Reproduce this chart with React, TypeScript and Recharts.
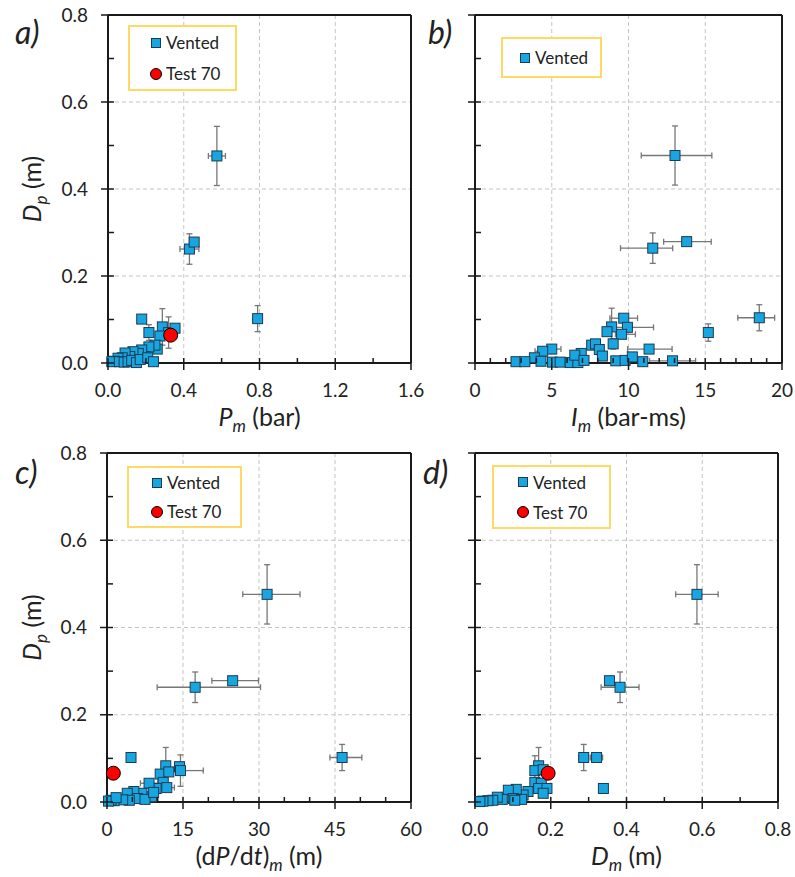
import { ScatterChart, Scatter, XAxis, YAxis, CartesianGrid, ReferenceLine, ErrorBar, Legend } from "recharts";

const FONT = "Lato, 'Open Sans', sans-serif";
const AXIS = "#1a1a1a";
const TEXT = "#222";
const GRID = "#c4c4c4";
const VENT_FILL = "#17A6E1";
const VENT_STROKE = "#1d3b50";
const RED = "#FF0000";
const ERR = "#777";
const LEGEND_BORDER = "#FFD966";

// axis ticks
const dpTicks = [0, 0.2, 0.4, 0.6, 0.8];
const dpMinor = [0.1, 0.3, 0.5, 0.7];
const pmTicks = [0, 0.4, 0.8, 1.2, 1.6];
const pmMinor = [0.2, 0.6, 1.0, 1.4];
const imTicks = [0, 5, 10, 15, 20];
const imMinor = [1, 2, 3, 4, 6, 7, 8, 9, 11, 12, 13, 14, 16, 17, 18, 19];
const dpdtTicks = [0, 15, 30, 45, 60];
const dpdtMinor = [5, 10, 20, 25, 35, 40, 50, 55];
const dmTicks = [0, 0.2, 0.4, 0.6, 0.8];
const dmMinor = [0.1, 0.3, 0.5, 0.7];

// a) Pm (bar) vs Dp (m)
const pmVented = [
  { x: 0.575, y: 0.476, ex: 0.045, ey: 0.068 },
  { x: 0.43, y: 0.262, ex: 0.05, ey: 0.035 },
  { x: 0.455, y: 0.278 },
  { x: 0.79, y: 0.102, ey: 0.03 },
  { x: 0.178, y: 0.101 },
  { x: 0.216, y: 0.07, ey: 0.018 },
  { x: 0.287, y: 0.083, ey: 0.042 },
  { x: 0.32, y: 0.07, ey: 0.036 },
  { x: 0.354, y: 0.08 },
  { x: 0.274, y: 0.062 },
  { x: 0.26, y: 0.032 },
  { x: 0.248, y: 0.041 },
  { x: 0.216, y: 0.037 },
  { x: 0.195, y: 0.015 },
  { x: 0.178, y: 0.03 },
  { x: 0.16, y: 0.022 },
  { x: 0.132, y: 0.026 },
  { x: 0.115, y: 0.015 },
  { x: 0.09, y: 0.023 },
  { x: 0.075, y: 0.012 },
  { x: 0.053, y: 0.011 },
  { x: 0.035, y: 0.004 },
  { x: 0.02, y: 0.003 },
  { x: 0.06, y: 0.003 },
  { x: 0.085, y: 0.002 },
  { x: 0.106, y: 0.003 },
  { x: 0.125, y: 0.006 },
  { x: 0.15, y: 0.001 },
  { x: 0.17, y: 0.008 },
  { x: 0.21, y: 0.012 },
  { x: 0.24, y: 0.003 },
];
const pmTest70 = [{ x: 0.331, y: 0.064 }];

// b) Im (bar-ms) vs Dp (m)
const imVented = [
  { x: 13.03, y: 0.477, ex: [2.2, 2.4], ey: 0.068 },
  { x: 11.58, y: 0.264, ex: [2.1, 1.3], ey: 0.035 },
  { x: 13.79, y: 0.279, ex: [1.5, 1.6] },
  { x: 18.52, y: 0.104, ex: [1.4, 1.0], ey: 0.03 },
  { x: 15.2, y: 0.07, ey: 0.02 },
  { x: 9.69, y: 0.103, ex: 0.9 },
  { x: 8.9, y: 0.083, ey: 0.043 },
  { x: 9.93, y: 0.082, ex: [1.3, 1.7] },
  { x: 8.6, y: 0.072 },
  { x: 9.55, y: 0.066, ex: [0.4, 0.9] },
  { x: 9.0, y: 0.044, ey: 0.012 },
  { x: 11.34, y: 0.032, ex: [1.4, 1.5] },
  { x: 7.6, y: 0.041 },
  { x: 7.85, y: 0.044 },
  { x: 8.1, y: 0.031 },
  { x: 8.3, y: 0.016 },
  { x: 5.0, y: 0.032, ex: 0.6 },
  { x: 4.41, y: 0.027, ex: 0.5 },
  { x: 3.87, y: 0.012 },
  { x: 4.3, y: 0.004 },
  { x: 2.67, y: 0.003 },
  { x: 3.25, y: 0.003 },
  { x: 5.05, y: 0.002 },
  { x: 5.55, y: 0.002 },
  { x: 6.2, y: 0.001 },
  { x: 6.7, y: 0.001 },
  { x: 6.92, y: 0.022 },
  { x: 6.5, y: 0.018 },
  { x: 7.1, y: 0.006 },
  { x: 9.17, y: 0.005 },
  { x: 9.78, y: 0.006 },
  { x: 10.25, y: 0.014 },
  { x: 10.93, y: 0.003 },
  { x: 12.87, y: 0.005, ex: 1.5 },
];

// c) (dP/dt)m vs Dp (m)
const dpdtVented = [
  { x: 31.6, y: 0.476, ex: [4.8, 6.5], ey: 0.068 },
  { x: 17.4, y: 0.263, ex: [7.5, 12.9], ey: 0.035 },
  { x: 24.8, y: 0.278, ex: [4.1, 5.1] },
  { x: 46.4, y: 0.102, ex: [2.4, 3.9], ey: 0.03 },
  { x: 4.74, y: 0.102 },
  { x: 11.6, y: 0.083, ey: 0.042 },
  { x: 10.5, y: 0.064 },
  { x: 12.2, y: 0.069 },
  { x: 14.3, y: 0.081 },
  { x: 14.5, y: 0.072, ex: [1, 4.5], ey: 0.036 },
  { x: 11.1, y: 0.045 },
  { x: 9.7, y: 0.031 },
  { x: 11.8, y: 0.033, ex: [0, 1.5] },
  { x: 8.3, y: 0.043, ex: 1.7 },
  { x: 8.8, y: 0.012 },
  { x: 6.9, y: 0.02 },
  { x: 5.3, y: 0.024 },
  { x: 4.0, y: 0.02 },
  { x: 6.0, y: 0.008 },
  { x: 4.4, y: 0.004 },
  { x: 3.1, y: 0.005 },
  { x: 1.4, y: 0.003 },
  { x: 0.8, y: 0.004 },
  { x: 0.3, y: 0.002 },
  { x: 1.8, y: 0.01 },
  { x: 7.5, y: 0.006 },
  { x: 9.2, y: 0.022 },
];
const dpdtTest70 = [{ x: 1.25, y: 0.066 }];

// d) Dm (m) vs Dp (m)
const dmVented = [
  { x: 0.586, y: 0.476, ex: 0.056, ey: 0.068 },
  { x: 0.383, y: 0.263, ex: 0.05, ey: 0.035 },
  { x: 0.355, y: 0.278 },
  { x: 0.287, y: 0.102, ex: 0.013, ey: 0.03 },
  { x: 0.321, y: 0.102, ex: 0.016 },
  { x: 0.339, y: 0.031 },
  { x: 0.168, y: 0.083, ey: 0.042 },
  { x: 0.158, y: 0.072, ey: 0.034 },
  { x: 0.18, y: 0.074 },
  { x: 0.158, y: 0.045 },
  { x: 0.175, y: 0.043 },
  { x: 0.168, y: 0.031 },
  { x: 0.19, y: 0.031 },
  { x: 0.18, y: 0.02 },
  { x: 0.14, y: 0.024 },
  { x: 0.127, y: 0.016 },
  { x: 0.109, y: 0.029 },
  { x: 0.088, y: 0.027 },
  { x: 0.101, y: 0.008 },
  { x: 0.123, y: 0.006 },
  { x: 0.072, y: 0.006 },
  { x: 0.059, y: 0.011 },
  { x: 0.047, y: 0.004 },
  { x: 0.034, y: 0.003 },
  { x: 0.021, y: 0.002 },
  { x: 0.013, y: 0.001 },
  { x: 0.105, y: 0.004 },
];
const dmTest70 = [{ x: 0.193, y: 0.066 }];

const TITLE_SIZE = 25;
const SUB_SIZE = 17;

const titles: Record<string, any> = {
  pm: (
    <>
      <tspan fontStyle="italic">P</tspan>
      <tspan fontStyle="italic" fontSize={SUB_SIZE} dy={6}>m</tspan>
      <tspan dy={-6}> (bar)</tspan>
    </>
  ),
  im: (
    <>
      <tspan fontStyle="italic">I</tspan>
      <tspan fontStyle="italic" fontSize={SUB_SIZE} dy={6}>m</tspan>
      <tspan dy={-6}> (bar-ms)</tspan>
    </>
  ),
  dpdt: (
    <>
      <tspan>(d</tspan>
      <tspan fontStyle="italic">P</tspan>
      <tspan>/d</tspan>
      <tspan fontStyle="italic">t</tspan>
      <tspan>)</tspan>
      <tspan fontStyle="italic" fontSize={SUB_SIZE} dy={6}>m</tspan>
      <tspan dy={-6}> (m)</tspan>
    </>
  ),
  dm: (
    <>
      <tspan fontStyle="italic">D</tspan>
      <tspan fontStyle="italic" fontSize={SUB_SIZE} dy={6}>m</tspan>
      <tspan dy={-6}> (m)</tspan>
    </>
  ),
};

const panels = [
  {
    key: "a", left: 0, top: 0, width: 440, height: 440,
    margin: { top: 15, right: 29, left: 0, bottom: 0 }, yw: 108, xh: 77,
    xMajor: pmTicks, xMinor: pmMinor, xFmt: (v: number) => v.toFixed(1),
    yLabels: true, letterX: 15, title: "pm",
    vented: pmVented, test: pmTest70,
    legend: { left: 128, top: 25, width: 109, height: 66, pad: 19 },
  },
  {
    key: "b", left: 420, top: 0, width: 375, height: 440,
    margin: { top: 15, right: 13, left: 0, bottom: 0 }, yw: 55, xh: 77,
    xMajor: imTicks, xMinor: imMinor, xFmt: (v: number) => String(v),
    yLabels: false, letterX: 8, title: "im",
    vented: imVented, test: null,
    legend: { left: 81, top: 37, width: 101, height: 41, pad: 15 },
  },
  {
    key: "c", left: 0, top: 440, width: 440, height: 437,
    margin: { top: 13, right: 29, left: 0, bottom: 0 }, yw: 107, xh: 75,
    xMajor: dpdtTicks, xMinor: dpdtMinor, xFmt: (v: number) => String(v),
    yLabels: true, letterX: 15, title: "dpdt",
    vented: dpdtVented, test: dpdtTest70,
    legend: { left: 127, top: 26, width: 115, height: 62, pad: 21 },
  },
  {
    key: "d", left: 420, top: 440, width: 375, height: 437,
    margin: { top: 13, right: 17, left: 0, bottom: 0 }, yw: 55, xh: 75,
    xMajor: dmTicks, xMinor: dmMinor, xFmt: (v: number) => v.toFixed(1),
    yLabels: false, letterX: 3, title: "dm",
    vented: dmVented, test: dmTest70,
    legend: { left: 72, top: 25, width: 119, height: 64, pad: 22 },
  },
];

function xTick(major: number[], fmt: (v: number) => string) {
  return (p: any) => {
    const v = p.payload.value;
    const isMajor = major.includes(v);
    return (
      <g>
        <line x1={p.x} x2={p.x} y1={p.y - 5} y2={isMajor ? p.y + 7 : p.y} stroke={AXIS} strokeWidth={1.5} />
        {isMajor && (
          <text x={p.x} y={p.y + 34} textAnchor="middle" fontSize={19} fill={TEXT} fontFamily={FONT}>
            {fmt(v)}
          </text>
        )}
      </g>
    );
  };
}

function yTick(showLabel: boolean) {
  return (p: any) => {
    const v = p.payload.value;
    const isMajor = dpTicks.includes(v);
    return (
      <g>
        <line x1={isMajor ? p.x - 7 : p.x} x2={p.x + 6} y1={p.y} y2={p.y} stroke={AXIS} strokeWidth={1.5} />
        {isMajor && showLabel && (
          <text x={p.x - 20} y={p.y} dy="0.35em" textAnchor="end" fontSize={19} fill={TEXT} fontFamily={FONT}>
            {v.toFixed(1)}
          </text>
        )}
      </g>
    );
  };
}

const squareShape = (p: any) => (
  <rect x={p.cx - 5} y={p.cy - 5} width={10} height={10} fill={VENT_FILL} stroke={VENT_STROKE} strokeWidth={1} />
);

const circleShape = (p: any) => (
  <circle cx={p.cx} cy={p.cy} r={7} fill={RED} stroke="#000" strokeWidth={1} />
);

function LegendBox({ lg, withTest }: { lg: any; withTest: boolean }) {
  const rows = withTest ? ["Vented", "Test 70"] : ["Vented"];
  return (
    <div
      style={{
        boxSizing: "border-box", width: lg.width, height: lg.height,
        border: `2px solid ${LEGEND_BORDER}`, background: "#fff",
        display: "flex", flexDirection: "column", justifyContent: "center",
        paddingLeft: lg.pad, fontFamily: FONT, fontSize: 17, color: TEXT,
      }}
    >
      {rows.map((name) => (
        <div key={name} style={{ display: "flex", alignItems: "center", height: 31 }}>
          <svg width={14} height={14} style={{ flex: "none" }}>
            {name === "Vented" ? (
              <rect x={2.5} y={2.5} width={9} height={9} fill={VENT_FILL} stroke={VENT_STROKE} strokeWidth={1} />
            ) : (
              <circle cx={7} cy={7} r={5.5} fill={RED} stroke="#000" strokeWidth={1} />
            )}
          </svg>
          <span style={{ marginLeft: 3 }}>{name}</span>
        </div>
      ))}
    </div>
  );
}

function Panel({ cfg }: { cfg: any }) {
  const ticksX = [...cfg.xMajor, ...cfg.xMinor].sort((a, b) => a - b);
  const ticksY = [...dpTicks, ...dpMinor].sort((a, b) => a - b);
  const xMax = cfg.xMajor[cfg.xMajor.length - 1];
  const yMax = dpTicks[dpTicks.length - 1];

  return (
    <div style={{ position: "absolute", left: cfg.left, top: cfg.top }}>
      <ScatterChart width={cfg.width} height={cfg.height} margin={cfg.margin}>
        <CartesianGrid
          stroke={GRID}
          strokeDasharray="4 3"
          verticalValues={cfg.xMajor.slice(1, -1)}
          horizontalValues={dpTicks.slice(1, -1)}
        />
        <XAxis
          type="number"
          dataKey="x"
          domain={[0, xMax]}
          ticks={ticksX}
          interval={0}
          tickSize={0}
          tickMargin={0}
          tick={xTick(cfg.xMajor, cfg.xFmt)}
          axisLine={{ stroke: AXIS, strokeWidth: 2 }}
          height={cfg.xh}
          label={(p: any) => (
            <text
              x={p.viewBox.x + p.viewBox.width / 2}
              y={p.viewBox.y + 63}
              textAnchor="middle"
              fontSize={TITLE_SIZE}
              fill={TEXT}
              fontFamily={FONT}
            >
              {titles[cfg.title]}
            </text>
          )}
        />
        <YAxis
          type="number"
          dataKey="y"
          domain={[0, yMax]}
          ticks={ticksY}
          interval={0}
          tickSize={0}
          tickMargin={0}
          tick={yTick(cfg.yLabels)}
          axisLine={{ stroke: AXIS, strokeWidth: 2 }}
          width={cfg.yw}
          label={(p: any) => {
            const cy = p.viewBox.y + p.viewBox.height / 2;
            return (
              <g>
                <text x={cfg.letterX} y={44} fontSize={32} fontStyle="italic" fill={TEXT} fontFamily={FONT}>
                  {cfg.key + ")"}
                </text>
                {cfg.yLabels && (
                  <text
                    x={41}
                    y={cy}
                    transform={`rotate(-90, 41, ${cy})`}
                    textAnchor="middle"
                    fontSize={TITLE_SIZE}
                    fill={TEXT}
                    fontFamily={FONT}
                  >
                    <tspan fontStyle="italic">D</tspan>
                    <tspan fontStyle="italic" fontSize={SUB_SIZE} dy={6}>p</tspan>
                    <tspan dy={-6}> (m)</tspan>
                  </text>
                )}
              </g>
            );
          }}
        />
        <ReferenceLine y={yMax} stroke={AXIS} strokeWidth={2} />
        <ReferenceLine x={xMax} stroke={AXIS} strokeWidth={2} />
        <Scatter name="Vented" data={cfg.vented} shape={squareShape} isAnimationActive={false}>
          <ErrorBar dataKey="ex" direction="x" width={3} stroke={ERR} strokeWidth={1.3} />
          <ErrorBar dataKey="ey" direction="y" width={3} stroke={ERR} strokeWidth={1.3} />
        </Scatter>
        {cfg.test && (
          <Scatter name="Test 70" data={cfg.test} shape={circleShape} isAnimationActive={false} />
        )}
        <Legend
          layout="vertical"
          align="center"
          verticalAlign="middle"
          wrapperStyle={{ left: cfg.legend.left, top: cfg.legend.top, width: cfg.legend.width, height: cfg.legend.height }}
          content={() => <LegendBox lg={cfg.legend} withTest={!!cfg.test} />}
        />
      </ScatterChart>
    </div>
  );
}

export default function App() {
  return (
    <div style={{ position: "absolute", left: 0, top: 0, width: 795, height: 877, background: "#fff" }}>
      {panels.map((cfg) => (
        <Panel key={cfg.key} cfg={cfg} />
      ))}
    </div>
  );
}
